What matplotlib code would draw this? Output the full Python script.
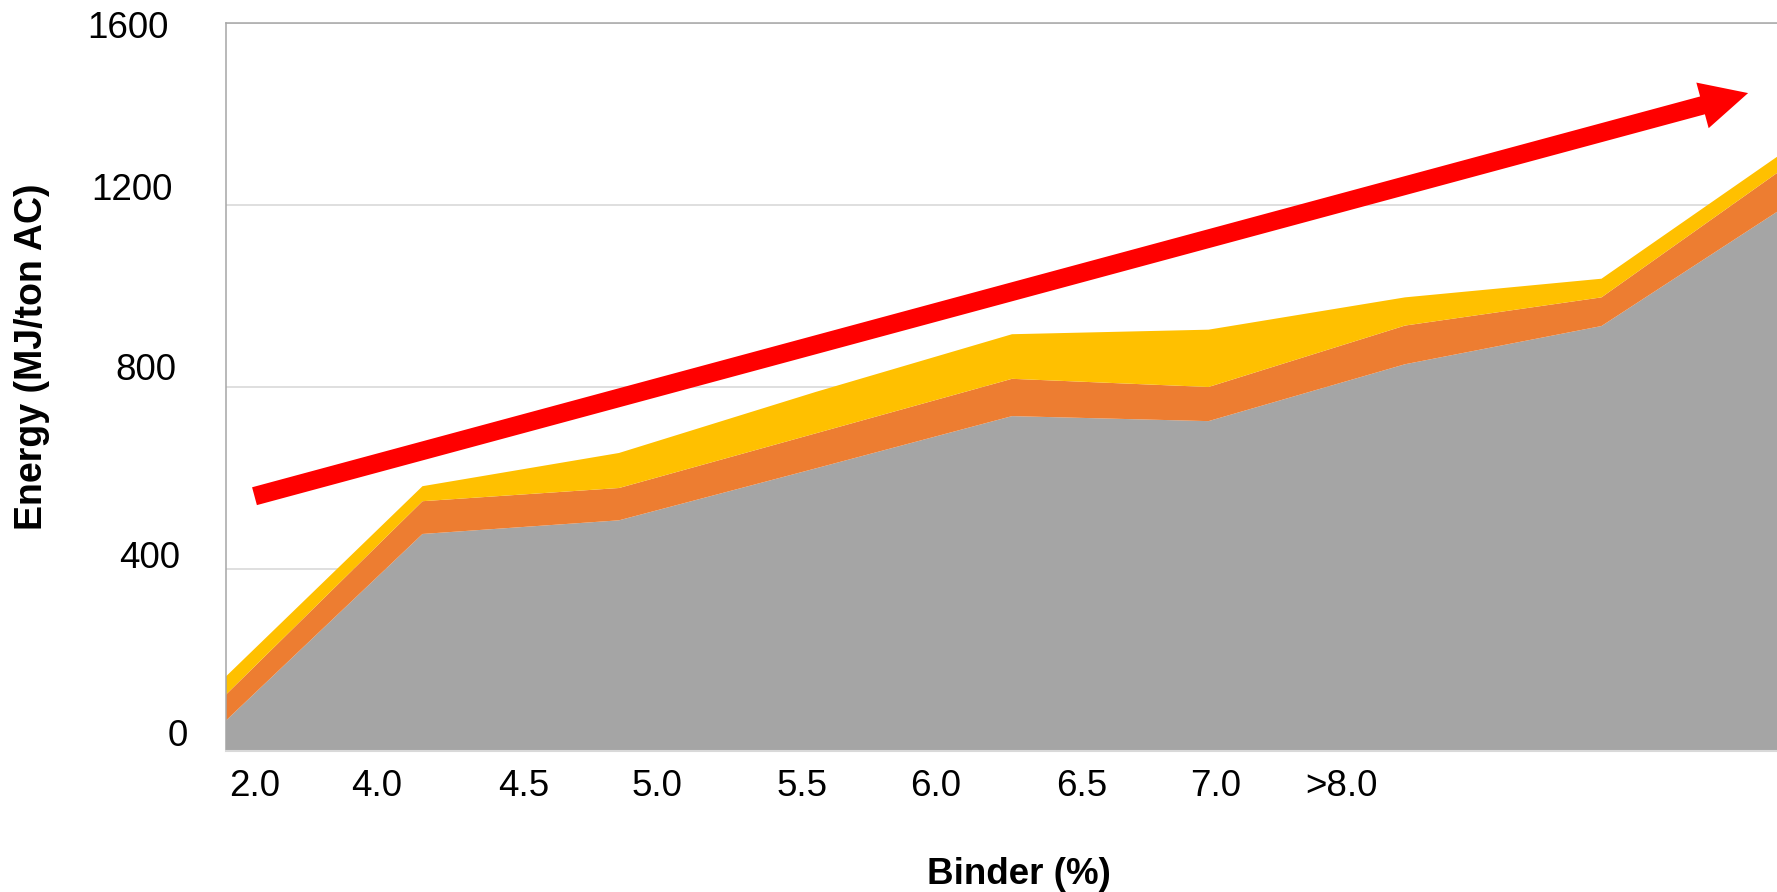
import matplotlib
matplotlib.use("Agg")
import matplotlib.pyplot as plt
import matplotlib.transforms as mtransforms
from matplotlib.patches import FancyArrowPatch

# Energy components per binder level (MJ/ton AC), stacked bottom to top
binder_steps = [0, 1, 2, 3, 4, 5, 6, 7, 8]
grey_energy = [67, 477, 507, 621, 736, 725, 850, 934, 1215]
orange_energy = [57, 72, 71, 77, 82, 75, 85, 63, 88]
yellow_energy = [40, 33, 77, 91, 98, 126, 62, 41, 35]

# Category labels along the horizontal axis
binder_labels = ["2.0", "4.0", "4.5", "5.0", "5.5", "6.0", "6.5", "7.0", ">8.0"]
binder_label_pos = [0.148, 0.768, 1.517, 2.193, 2.931, 3.613, 4.356, 5.038, 5.674]

energy_ticks = [0, 400, 800, 1200, 1600]
# per-label nudges of the energy labels (pixels: right, up)
energy_label_shift = [(9, 18), (1, 14), (-2, 21), (-6, 18), (-10, -1)]

# Trend arrow (start, tip) in data units
trend_start = (0.145, 560)
trend_tip = (7.746, 1446)

colors = ["#a5a5a5", "#ed7d31", "#ffc000"]
plt.rcParams["font.family"] = ["Liberation Sans", "DejaVu Sans"]

W, H = 1777, 892
fig = plt.figure(figsize=(W / 100, H / 100), dpi=100)
ax = fig.add_axes([226 / W, 141 / H, (1798 - 226) / W, 728 / H])

ax.stackplot(binder_steps, grey_energy, orange_energy, yellow_energy,
             colors=colors, linewidth=0, zorder=2)

ax.set_xlim(0, 8)
ax.set_ylim(0, 1600)

# Grid and frame
ax.set_yticks(energy_ticks)
ax.yaxis.grid(True, color="#d9d9d9", linewidth=1.2, zorder=0)
ax.set_axisbelow(True)
for side in ("left", "top"):
    ax.spines[side].set_color("#a6a6a6")
    ax.spines[side].set_linewidth(1.1)
ax.spines["bottom"].set_color("#d9d9d9")
ax.spines["bottom"].set_linewidth(1.5)
ax.spines["right"].set_visible(False)

# Tick labels
ax.set_xticks(binder_label_pos)
ax.set_xticklabels(binder_labels)
ax.tick_params(axis="x", length=0, pad=13, labelsize=26.5)
ax.tick_params(axis="y", length=0, pad=34, labelsize=26.5)
ax.set_yticklabels([str(v) for v in energy_ticks])
for lbl, (dx, dy) in zip(ax.get_yticklabels(), energy_label_shift):
    lbl.set_transform(lbl.get_transform() +
                      mtransforms.ScaledTranslation(dx / 100, dy / 100, fig.dpi_scale_trans))

# Axis titles
ax.set_xlabel("Binder (%)", fontsize=26.5, fontweight="bold")
ax.xaxis.set_label_coords((1019 - 226) / 1572, -(875 - 751) / 728)
ax.xaxis.label.set_va("center")
ax.set_ylabel("Energy (MJ/ton AC)", fontsize=27, fontweight="bold")
ax.yaxis.set_label_coords((32 - 226) / 1572, (751 - 357) / 728)
ax.yaxis.label.set_va("center")

# Upward trend arrow
arrow = FancyArrowPatch(trend_start, trend_tip,
                        arrowstyle="simple,head_length=3.4,head_width=3.4,tail_width=1.33",
                        mutation_scale=10, color="#ff0000", linewidth=0,
                        shrinkA=0, shrinkB=0, zorder=5, clip_on=False)
ax.add_patch(arrow)

fig.savefig("out.png", dpi=100)
